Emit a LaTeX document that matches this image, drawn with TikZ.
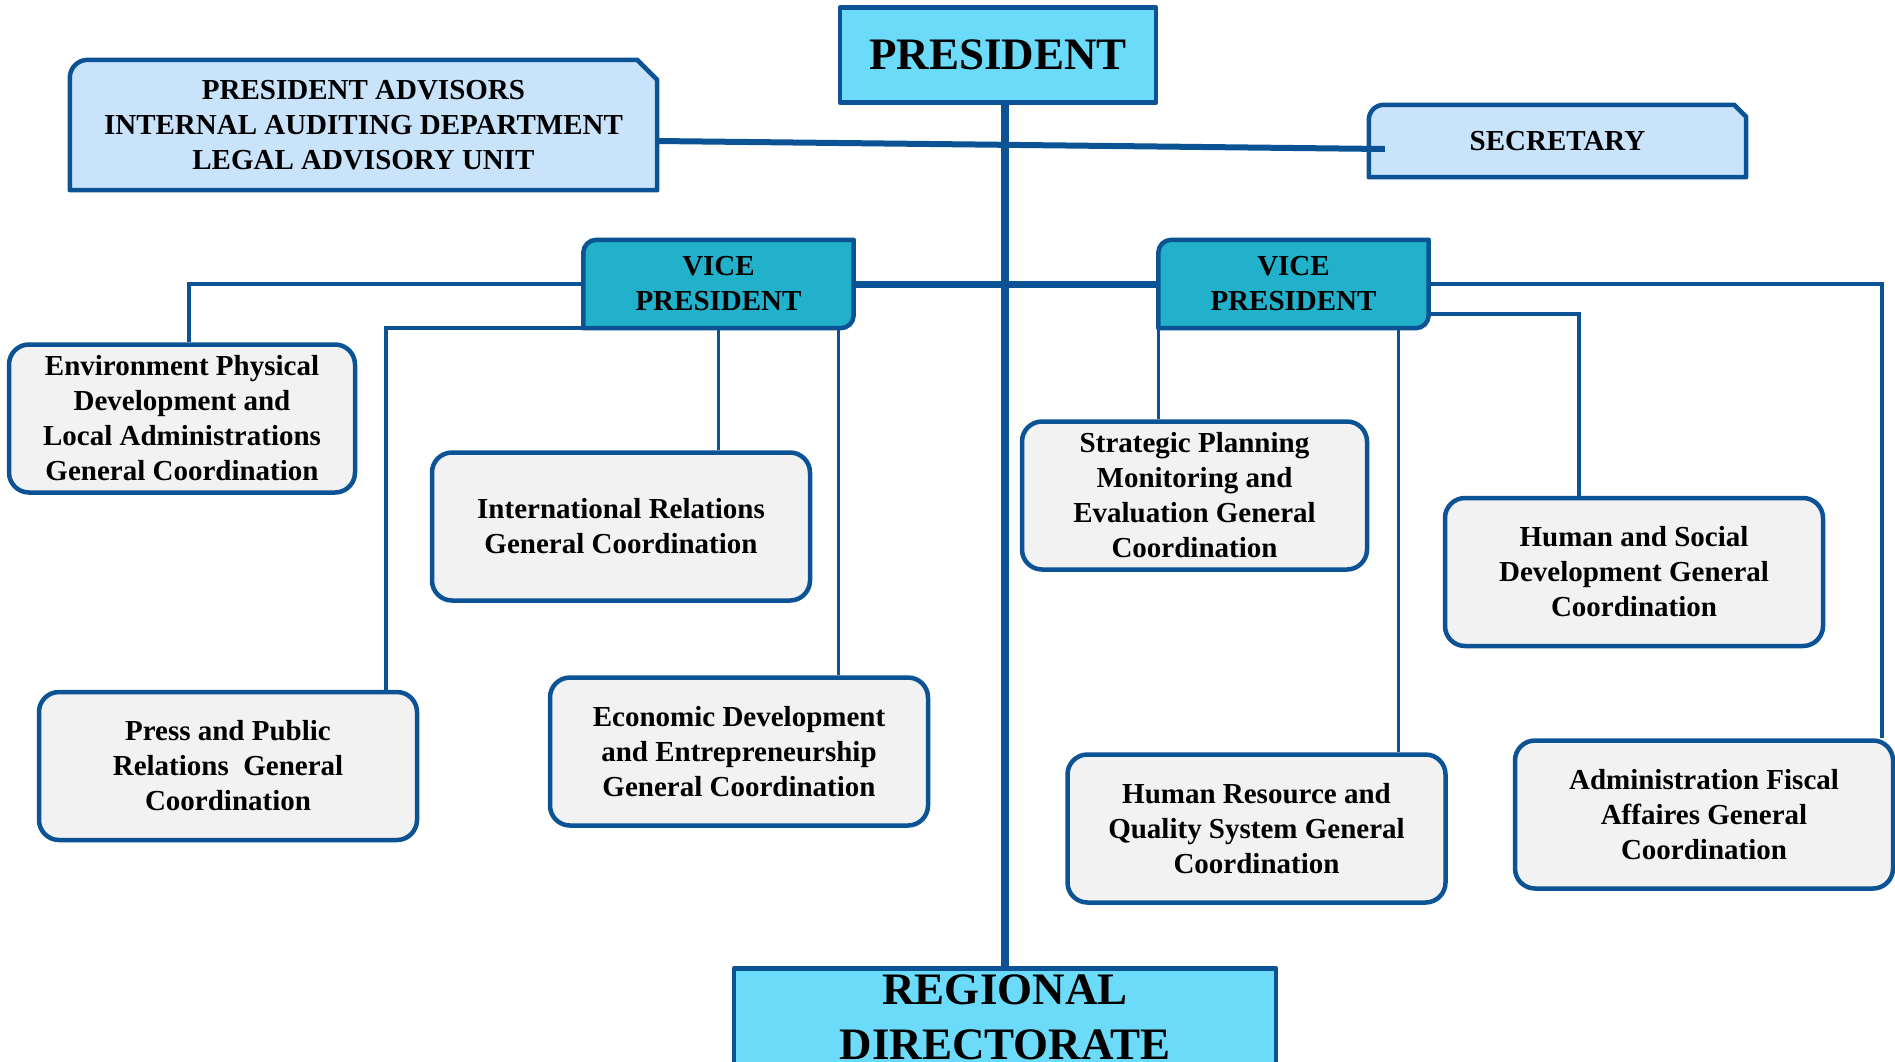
\documentclass[tikz,border=0pt]{standalone}
\usepackage{fontspec}
\setmainfont{Liberation Serif}
\usetikzlibrary{backgrounds}

\definecolor{frameblue}{HTML}{0B5394}
\definecolor{topcyan}{HTML}{6CDBF9}
\definecolor{advblue}{HTML}{C8E3FA}
\definecolor{vpteal}{HTML}{21B1CB}
\definecolor{unitgrey}{HTML}{F2F2F2}

\tikzset{
  boxtext/.style={align=center, inner sep=0pt, font=\bfseries\fontsize{29}{35}\selectfont},
  frame/.style={draw=frameblue, line width=4.5pt, line join=round},
  topbox/.style={frame, fill=topcyan, align=center, inner sep=0pt, font=\bfseries\fontsize{45}{55}\selectfont},
  unit/.style={boxtext, frame, fill=unitgrey, rounded corners=20pt, minimum width=378pt, minimum height=148pt},
  vpbox/.style={boxtext, minimum width=270pt, minimum height=88pt},
  link/.style={draw=frameblue, line width=3.5pt},
}

\begin{document}
\begin{tikzpicture}[x=1pt, y=1pt]
  \useasboundingbox (0,0) rectangle (1895,-1061);
  \clip (0,0) rectangle (1895,-1061);

  % top level
  \node[topbox, minimum width=316pt, minimum height=95pt] (pres) at (998,-55) {PRESIDENT};
  \node[boxtext, minimum width=587pt, minimum height=130pt] (adv) at (363.5,-125)
    {PRESIDENT ADVISORS\\INTERNAL AUDITING DEPARTMENT\\LEGAL ADVISORY UNIT};
  \node[boxtext, minimum width=377pt, minimum height=72pt] (sec) at (1557.5,-141) {SECRETARY};
  \node[vpbox] (vpl) at (718.5,-284) {VICE\\PRESIDENT};
  \node[vpbox] (vpr) at (1293.5,-284) {VICE\\PRESIDENT};

  % coordinations
  \node[unit, minimum width=346pt] (env) at (182,-418.5)
    {Environment Physical\\Development and\\Local Administrations\\General Coordination};
  \node[unit] (intl) at (621,-526.5) {International Relations\\General Coordination};
  \node[unit] (press) at (228,-766) {Press and Public\\Relations~ General\\Coordination};
  \node[unit] (econ) at (739,-751.5)
    {Economic Development\\and Entrepreneurship\\General Coordination};
  \node[unit, minimum width=345pt] (strat) at (1194.5,-495.5)
    {Strategic Planning\\Monitoring and\\Evaluation General\\Coordination};
  \node[unit] (hr) at (1256.5,-828.5) {Human Resource and\\Quality System General\\Coordination};
  \node[unit] (hs) at (1634,-572) {Human and Social\\Development General\\Coordination};
  \node[unit] (admin) at (1704,-814.5) {Administration Fiscal\\Affaires General\\Coordination};

  \node[topbox, anchor=north, minimum width=542pt, inner ysep=6pt, text depth=30pt] (reg)
    at (1005,-966) {REGIONAL\\DIRECTORATE};

  % snipped and half rounded frames
  \begin{pgfonlayer}{background}
    \fill[white] (0,0) rectangle (1895,-1061);
    \foreach \n/\r/\c in {adv/18/20, sec/15/12} {
      \filldraw[frame, fill=advblue] ([yshift=-\r pt]\n.north west)
        arc[start angle=180, end angle=90, radius=\r]
        -- ([xshift=-\c pt]\n.north east) -- ([yshift=-\c pt]\n.north east)
        -- (\n.south east) -- (\n.south west) -- cycle;
    }
    \foreach \n in {vpl, vpr} {
      \filldraw[frame, fill=vpteal] ([yshift=-13pt]\n.north west)
        arc[start angle=180, end angle=90, radius=13]
        -- (\n.north east) -- ([yshift=13pt]\n.south east)
        arc[start angle=0, end angle=-90, radius=13]
        -- (\n.south west) -- cycle;
    }
  \end{pgfonlayer}

  % main lines
  \draw[link, line width=6pt] ([yshift=-16pt]adv.east) -- ([xshift=16pt, yshift=-8pt]sec.west);
  \draw[link, line width=7pt] (vpl.east) -- (vpr.west);
  \draw[link, line width=8pt] (reg.north |- pres.south) -- (reg.north);

  % left vice president
  \draw[link] (vpl.west) -| ([xshift=7pt]env.north);
  \draw[link] (vpl.south west) -| ([xshift=158pt]press.north);
  \draw[link] (vpl.south) -- (vpl.south |- intl.north);
  \draw[link] ([xshift=-15pt]vpl.south east) -- ([xshift=-15pt]vpl.south east |- econ.north);

  % right vice president
  \draw[link] (vpr.south west) -- (vpr.south west |- strat.north);
  \draw[link] ([xshift=-30pt]vpr.south east) -- ([xshift=-30pt]vpr.south east |- hr.north);
  \draw[link] ([yshift=-30pt]vpr.east) -| ([xshift=-55pt]hs.north);
  \draw[link] (vpr.east) -| ([xshift=178pt]admin.north);
\end{tikzpicture}
\end{document}
